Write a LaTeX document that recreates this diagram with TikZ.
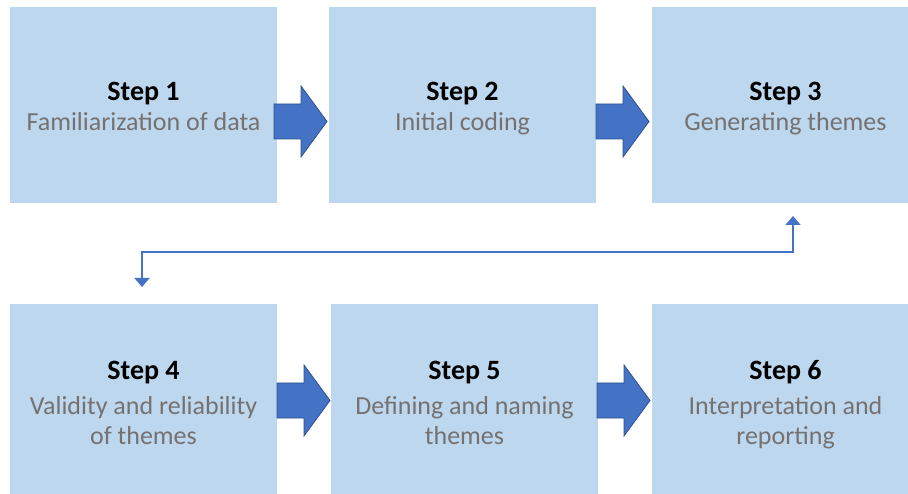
\documentclass[tikz,border=0pt]{standalone}
\usepackage{fontspec}
\setmainfont{Carlito}
\usetikzlibrary{arrows.meta}
\definecolor{boxfill}{HTML}{BDD7EE}
\definecolor{arrfill}{HTML}{4472C4}
\definecolor{arrdraw}{HTML}{2F528F}
\definecolor{subgray}{HTML}{767171}
\tikzset{
  stepbox/.style={fill=boxfill, draw=none, minimum width=267pt, minimum height=196pt, inner sep=0pt, outer sep=0pt},
  steptitle/.style={anchor=base, inner sep=0pt, font=\fontsize{28}{32}\selectfont\bfseries, text=black},
  stepsub/.style={anchor=base, inner sep=0pt, font=\fontsize{26}{30}\selectfont, text=subgray},
  fatarrow/.style={fill=arrfill, draw=arrdraw, line width=0.8pt, line join=miter},
  link/.style={draw=arrfill, line width=1.8pt, {Triangle[width=15pt,length=9pt]}-{Triangle[width=15pt,length=9pt]}}
}
\begin{document}
\begin{tikzpicture}[x=1pt,y=-1pt]
\useasboundingbox (0,0) rectangle (908,494);
\clip (0,0) rectangle (908,494);
% boxes
\node[stepbox] (b1) at (143.5,105) {};
\node[stepbox] (b2) at (462.5,105) {};
\node[stepbox] (b3) at (785.5,105) {};
\node[stepbox] (b4) at (143.5,402) {};
\node[stepbox] (b5) at (464.5,402) {};
\node[stepbox] (b6) at (785.5,402) {};
% texts
\node[steptitle] (t1) at (143.5,101) {Step 1};
\node[stepsub] (s1) at (143.5,131) {Familiarization of data};
\node[steptitle] (t2) at (462.5,101) {Step 2};
\node[stepsub] (s2) at (462.5,131) {Initial coding};
\node[steptitle] (t3) at (785.5,101) {Step 3};
\node[stepsub] (s3) at (785.5,131) {Generating themes};
\node[steptitle] (t4) at (143.5,380) {Step 4};
\node[stepsub] (s4a) at (143.5,414) {Validity and reliability};
\node[stepsub] (s4b) at (143.5,444) {of themes};
\node[steptitle] (t5) at (464.5,380) {Step 5};
\node[stepsub] (s5a) at (464.5,414) {Defining and naming};
\node[stepsub] (s5b) at (464.5,444) {themes};
\node[steptitle] (t6) at (785.5,380) {Step 6};
\node[stepsub] (s6a) at (785.5,414) {Interpretation and};
\node[stepsub] (s6b) at (785.5,444) {reporting};
% block arrows
\foreach \nm/\x/\y in {a1/274/121, a2/596/121, a3/277/400, a4/597/400}{
  \coordinate (\nm) at (\x,\y);
  \draw[fatarrow] ([shift={(0,-17)}]\nm) -- ++(27,0) -- ++(0,-18) -- ++(26,35.5) -- ++(-26,35.5) -- ++(0,-18) -- ++(-27,0) -- cycle;
}
% connector
\coordinate (c1) at (793,216);
\coordinate (c2) at (142,287);
\draw[link] (c1) |- (142,252) -- (c2);
\end{tikzpicture}
\end{document}
